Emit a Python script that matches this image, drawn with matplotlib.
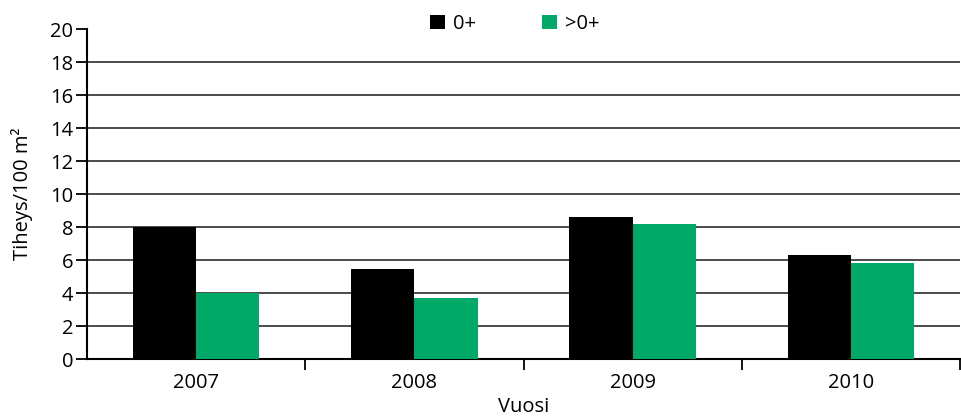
import numpy as np
import matplotlib
matplotlib.use("Agg")
import matplotlib.pyplot as plt

plt.rcParams['font.family'] = ['Open Sans', 'DejaVu Sans']

years = ["2007", "2008", "2009", "2010"]
age0 = [8.0, 5.45, 8.62, 6.3]
older = [4.0, 3.7, 8.18, 5.82]
series_names = ["0+", ">0+"]

BLACK = "#000000"
GREEN = "#00A968"
FS = 14.5

fig = plt.figure(figsize=(9.62, 4.17), dpi=100)
ax = fig.add_axes([0.0904, 0.139, 0.9076, 0.791])

x = np.arange(len(years))
w = 0.29
ax.bar(x - w / 2, age0, w, color=BLACK, label=series_names[0], zorder=3)
ax.bar(x + w / 2, older, w, color=GREEN, label=series_names[1], zorder=3)

ax.set_xlim(-0.5, len(years) - 0.5)
ax.set_ylim(0, 20)
ax.set_yticks(np.arange(0, 21, 2))
for yv in range(2, 20, 2):
    ax.axhline(yv, color="#1a1a1a", lw=1.1, zorder=1)

# category labels centered, tick marks at the boundaries
ax.set_xticks(x)
ax.set_xticklabels(years)
ax.tick_params(axis="x", which="major", length=0, labelsize=FS, pad=10)
ax.set_xticks(np.arange(0.5, len(years), 1), minor=True)
ax.tick_params(axis="x", which="minor", length=8, width=1.3, direction="out")
ax.tick_params(axis="y", length=8, width=1.3, labelsize=FS, pad=2)

for s in ["top", "right"]:
    ax.spines[s].set_visible(False)
ax.spines["left"].set_linewidth(1.5)
ax.spines["bottom"].set_linewidth(1.5)

ax.set_ylabel("Tiheys/100 m²", fontsize=FS, labelpad=12)
ax.set_xlabel("Vuosi", fontsize=FS, labelpad=3)

leg = fig.legend(loc="upper center", bbox_to_anchor=(0.535, 1.01), ncol=2,
                 frameon=False, fontsize=FS, handlelength=0.75,
                 handleheight=0.75, handletextpad=0.4, columnspacing=3.3)

fig.savefig("out.png", dpi=100)
